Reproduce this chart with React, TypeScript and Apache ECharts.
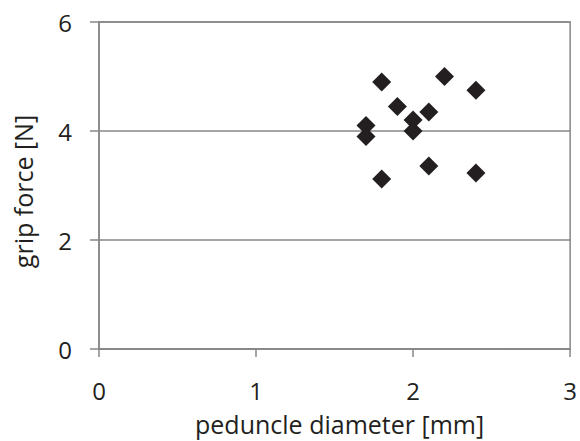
import React, { useEffect, useRef } from "react";
import * as echarts from "echarts";

const diameters = [1.8, 2.2, 2.4, 1.9, 2.1, 2.0, 1.7, 2.0, 1.7, 2.1, 1.8, 2.4];
const forces = [4.9, 5.0, 4.75, 4.45, 4.35, 4.2, 4.1, 4.0, 3.9, 3.36, 3.12, 3.23];
const xTicks = [0, 1, 2, 3];
const yTicks = [0, 2, 4, 6];

export default function App() {
  const ref = useRef<HTMLDivElement>(null);
  useEffect(() => {
    if (!ref.current) return;
    const chart = echarts.init(ref.current, undefined, { renderer: "svg" });
    const gray = "#878787";
    const textColor = "#231f20";
    const font = "Open Sans";
    chart.setOption({
      animation: false,
      grid: {
        left: 99,
        right: 8,
        top: 22,
        bottom: 90,
        show: true,
        borderColor: gray,
        borderWidth: 1.5,
      },
      xAxis: {
        type: "value",
        min: xTicks[0],
        max: xTicks[xTicks.length - 1],
        interval: 1,
        name: "peduncle diameter [mm]",
        nameLocation: "middle",
        nameGap: 62,
        nameTextStyle: { fontFamily: font, fontSize: 25, color: textColor, padding: [0, 0, 0, 10] },
        axisLine: { show: true, lineStyle: { color: gray, width: 1.5 } },
        axisTick: { show: true, length: 8, lineStyle: { color: gray, width: 1.5 } },
        axisLabel: { fontFamily: font, fontSize: 24, color: textColor, margin: 29 },
        splitLine: { show: false },
      },
      yAxis: {
        type: "value",
        min: yTicks[0],
        max: yTicks[yTicks.length - 1],
        interval: 2,
        name: "grip force [N]",
        nameLocation: "middle",
        nameGap: 64,
        nameTextStyle: { fontFamily: font, fontSize: 25, color: textColor, padding: [0, 12, 0, 0] },
        axisLine: { show: true, lineStyle: { color: gray, width: 1.5 } },
        axisTick: { show: true, length: 9, lineStyle: { color: gray, width: 1.5 } },
        axisLabel: { fontFamily: font, fontSize: 24, color: textColor, margin: 27 },
        splitLine: { show: true, lineStyle: { color: gray, width: 1.5 } },
      },
      series: [
        {
          type: "scatter",
          symbol: "diamond",
          symbolSize: [19, 19],
          itemStyle: { color: "#231f20", opacity: 1 },
          data: diameters.map((d, i) => [d, forces[i]]),
        },
      ],
    });
    return () => chart.dispose();
  }, []);
  return (
    <div
      ref={ref}
      style={{ position: "fixed", left: 0, top: 0, width: 580, height: 441, background: "#fff" }}
    />
  );
}
